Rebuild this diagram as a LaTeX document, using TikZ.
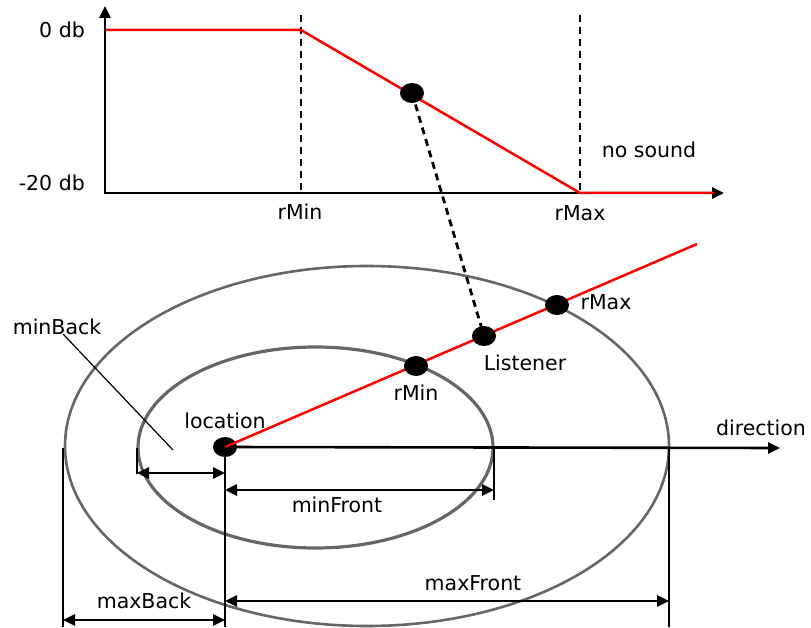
\documentclass[tikz,border=0pt]{standalone}
\usepackage{fontspec}
\setmainfont{DejaVu Sans}
\usetikzlibrary{arrows.meta,shapes.geometric}
\begin{document}
\begin{tikzpicture}[x=1pt,y=-1pt,
  every node/.style={font=\fontsize{20.5}{24}\selectfont, inner sep=0pt},
  axis/.style={line width=2.8pt, -{Triangle[length=12pt,width=11pt]}},
  curve/.style={red, line width=2.5pt},
  guide/.style={line width=2.8pt, dash pattern=on 7pt off 5pt},
  ring/.style={draw=black!60, line width=2.6pt},
  dot/.style={ellipse, fill=black, minimum width=24pt, minimum height=20pt},
  tick/.style={line width=2.6pt},
  dim/.style={line width=2.6pt, {Triangle[length=12pt,width=11pt]}-{Triangle[length=12pt,width=11pt]}},
]
\useasboundingbox (0,0) rectangle (811,628);

% ---- attenuation graph ----
\coordinate (origin) at (105,193);
\coordinate (ytop) at (105,6);
\coordinate (xend) at (724,193);
\coordinate (c0) at (106,30);
\coordinate (cmin) at (301,30);
\coordinate (cmax) at (580,193);
\coordinate (cend) at (714,193);
\coordinate (gmin) at (301,15);
\coordinate (gminb) at (301,193);
\coordinate (gmax) at (580,15);
\coordinate (gmaxb) at (580,193);

\draw[guide] (gmin) -- (gminb);
\draw[guide] (gmax) -- (gmaxb);
\draw[axis] (origin) -- (ytop);
\draw[axis] ([xshift=-1.4pt]origin) -- (xend);
\draw[curve] (c0) -- (cmin) -- (cmax) -- (cend);

\node[anchor=east] (l0) at (85,30) {0 db};
\node[anchor=east] (l20) at (85,183) {-20 db};
\node (lgmin) at (300,212) {rMin};
\node (lgmax) at (580,213) {rMax};
\node (lnone) at (649,150) {no sound};

\node[dot] (gdot) at (412,93) {};

% ---- emitter cone ----
\coordinate (center) at (367,446);
\draw[ring] (center) ellipse [x radius=302, y radius=180];
\draw[ring, line width=3.2pt] (315.5,447.5) ellipse [x radius=177.5, y radius=100.5];

\node[dot] (loc) at (225,447) {};
\coordinate (dirend) at (780,448);
\draw[axis, line width=2.6pt] (loc.center) -- (dirend);
\node (ldir) at (761,428) {direction};

\coordinate (rayend) at (697,244);
\draw[curve] (loc.center) -- (rayend);
\node[dot] (pmin) at (416,366) {};
\node[dot] (listener) at (484,336) {};
\node[dot] (pmax) at (557,305) {};
\node (lloc) at (225,421) {location};
\node (lpmin) at (416,393) {rMin};
\node (llis) at (525,363) {Listener};
\node (lpmax) at (606,302) {rMax};

\draw[guide] (gdot.center) -- (listener.center);

% ---- extent marks ----
\coordinate (locb) at (225,627);
\coordinate (mbt) at (137,448);
\coordinate (mbb) at (137,474);
\coordinate (mft) at (494,448);
\coordinate (mfb) at (494,500);
\coordinate (xbt) at (63,448);
\coordinate (xbb) at (63,627);
\coordinate (xft) at (669,448);
\coordinate (xfb) at (669,627);
\draw[tick] (loc.center) -- (locb);
\draw[tick] (mbt) -- (mbb);
\draw[tick] (mft) -- (mfb);
\draw[tick] (xbt) -- (xbb);
\draw[tick] (xft) -- (xfb);

\coordinate (a1) at (137,473);
\coordinate (a2) at (225,473);
\coordinate (b1) at (225,490);
\coordinate (b2) at (494,490);
\coordinate (c1) at (225,601);
\coordinate (c2) at (669,601);
\coordinate (d1) at (63,620);
\coordinate (d2) at (225,620);
\draw[dim] (a1) -- (a2);
\draw[dim] (b1) -- (b2);
\draw[dim] (c1) -- (c2);
\draw[dim] (d1) -- (d2);

\node (lmf) at (337,505) {minFront};
\node (lxf) at (473,583) {maxFront};
\node (lxb) at (144,601) {maxBack};
\node (lmb) at (57,327) {minBack};
\coordinate (mbpt) at (173,450);
\draw[line width=1.2pt] (63,334) -- (mbpt);
\end{tikzpicture}
\end{document}
